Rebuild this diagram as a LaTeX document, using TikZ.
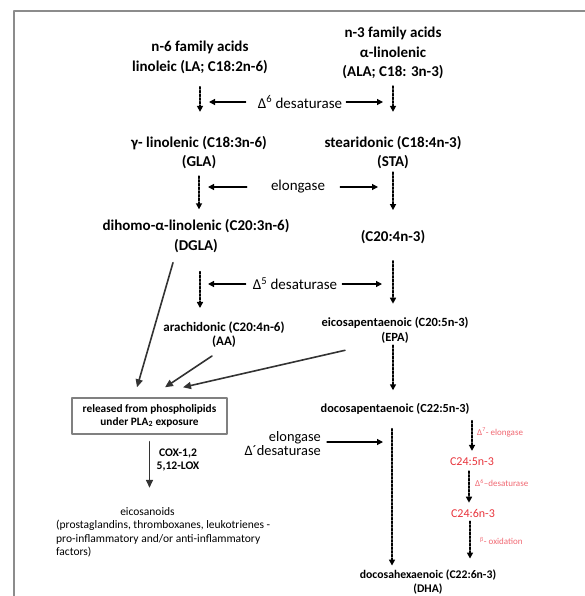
\documentclass[tikz,border=0pt]{standalone}
\usepackage{fontspec}
\setmainfont{Carlito}
\usetikzlibrary{arrows,arrows.meta}
\definecolor{chainred}{RGB}{232,52,60}
\definecolor{stepred}{RGB}{240,104,114}

\begin{document}
\begin{tikzpicture}[line cap=round,line join=round,>={Triangle[length=6pt,width=6pt]},x=1pt,y=-1pt,
	acid/.style={font=\bfseries\fontsize{15}{19.5}\selectfont,align=center,inner sep=0pt},
	minor/.style={font=\bfseries\fontsize{13}{14}\selectfont,align=center,inner sep=0pt},
	enzyme/.style={font=\fontsize{15}{14}\selectfont,inner sep=0pt},
	chain/.style={font=\fontsize{12}{15}\selectfont,text=chainred,inner sep=0pt},
	stepnote/.style={font=\fontsize{9}{10}\selectfont,text=stepred,inner sep=0pt,anchor=west},
	pathway/.style={->,line width=1.6pt,dash pattern=on 2.2pt off 1.5pt},
	enzarrow/.style={->,line width=1.2pt},
	feed/.style={-{Triangle[length=8pt,width=7pt]},line width=1.6pt,black!80}]
		\useasboundingbox (0,0) rectangle (585,596);
		\draw [line width=1.6pt,black!45] (585,11) -- (14,11) -- (14,596);
		% fatty acids
		\node[acid] (n6) at (200,57.5) {n-6 family acids\\linoleic (LA; C18:2n-6)};
		\node[acid] (n3) at (393,53) {n-3 family acids\\α-linolenic\\(ALA; C18: 3n-3)};
		\node[acid] (gla) at (199,152.5) {γ- linolenic (C18:3n-6)\\(GLA)};
		\node[acid] (sta) at (393,152.5) {stearidonic (C18:4n-3)\\(STA)};
		\node[acid] (dgla) at (196,236) {dihomo-α-linolenic (C20:3n-6)\\(DGLA)};
		\node[acid] (c204) at (393,237) {(C20:4n-3)};
		\node[minor] (aa) at (224,335) {arachidonic (C20:4n-6)\\(AA)};
		\node[minor,font=\bfseries\fontsize{12.5}{15}\selectfont] (epa) at (395,330) {eicosapentaenoic (C20:5n-3)\\(EPA)};
		\node[minor,font=\bfseries\fontsize{12.3}{14}\selectfont] (dpa) at (395,409) {docosapentaenoic (C22:5n-3)};
		\node[minor,font=\bfseries\fontsize{11.7}{14}\selectfont] (dha) at (428,582) {docosahexaenoic (C22:6n-3)\\(DHA)};
		\node[chain] (c245) at (472,462) {C24:5n-3};
		\node[chain] (c246) at (473,513) {C24:6n-3};
		% enzymes
		\node[enzyme] (d6) at (300,102) {Δ\textsuperscript{6} desaturase};
		\node[enzyme] (elong) at (298,187) {elongase};
		\node[enzyme] (d5) at (295,284) {Δ\textsuperscript{5} desaturase};
		\node[enzyme,font=\fontsize{14.4}{14}\selectfont,align=right,anchor=east] (elong2) at (321,444) {elongase\\Δ´desaturase};
		\node[stepnote] (d7) at (477,432) {Δ\textsuperscript{7}- elongase};
		\node[stepnote] (d6b) at (475,483) {Δ\textsuperscript{6}–desaturase};
		\node[stepnote] (beta) at (480,541) {\textsuperscript{β}- oxidation};
		% release and eicosanoids
		\node[minor,font=\bfseries\fontsize{11.3}{12.5}\selectfont,draw=black!50,line width=1.4pt,minimum width=155pt,minimum height=36pt] (box) at (149.5,416) {released from phospholipids\\under PLA\textsubscript{2} exposure};
		\node[minor,font=\bfseries\fontsize{11.6}{13}\selectfont] (cox) at (178,460) {COX-1,2\\5,12-LOX};
		\node[font=\fontsize{11.5}{13.5}\selectfont,inner sep=0pt] (eicotitle) at (147.5,512) {eicosanoids};
		\node[font=\fontsize{11.5}{13.5}\selectfont,inner sep=0pt,align=left,anchor=north west] (eicolist) at (56,520) {(prostaglandins, thromboxanes, leukotrienes -\\pro-inflammatory and/or anti-inflammatory\\factors)};
		% pathway steps
		\draw [pathway,shorten <=13pt,shorten >=24pt] (n6.south) -- (n6.south |- gla.north);
		\draw [pathway,shorten <=7pt,shorten >=24pt] (n3.south) -- (n3.south |- sta.north);
		\draw [pathway,shorten <=7pt,shorten >=10pt] (gla.south) -- (gla.south |- dgla.north);
		\draw [pathway,shorten <=3pt,shorten >=20pt] (sta.south) -- (sta.south |- c204.north);
		\draw [pathway,shorten <=19pt,shorten >=14pt] ([xshift=4pt]dgla.south) -- ([xshift=4pt]dgla.south |- aa.north);
		\draw [pathway,shorten <=17pt,shorten >=13pt] (c204.south) -- (c204.south |- epa.north);
		\draw [pathway,shorten <=2pt,shorten >=13pt] ([xshift=-2pt]epa.south) -- ([xshift=-2pt]epa.south |- dpa.north);
		\draw [pathway,shorten <=14pt,shorten >=4pt] ([xshift=-3pt]dpa.south) -- ([xshift=-3pt]dpa.south |- dha.north);
		\draw [pathway,shorten <=6pt,shorten >=7pt] (dpa.south -| c245.north) -- (c245.north);
		\draw [pathway,shorten <=5pt,shorten >=6pt] ([xshift=-3pt]c245.south) -- ([xshift=-3pt]c245.south |- c246.north);
		\draw [pathway,shorten <=4pt,shorten >=11pt] ([xshift=-3pt]c246.south) -- ([xshift=-3pt]c246.south |- dha.north);
		% enzyme arrows
		\draw [enzarrow,shorten <=12pt,shorten >=9pt] (d6.west) -- (d6.west -| n6.south);
		\draw [enzarrow,shorten <=4pt,shorten >=10pt] (d6.east) -- (d6.east -| n3.south);
		\draw [enzarrow,shorten <=24pt,shorten >=9pt] (elong.west) -- (elong.west -| gla.south);
		\draw [enzarrow,shorten <=15pt,shorten >=15pt] (elong.east) -- (elong.east -| sta.south);
		\draw [enzarrow,shorten <=7pt,shorten >=12pt] (d5.west) -- (d5.west -| dgla.south);
		\draw [enzarrow,shorten <=5pt,shorten >=11pt] (d5.east) -- (d5.east -| c204.south);
		\draw [enzarrow,shorten <=6pt,shorten >=12pt] ([yshift=2pt]elong2.east) -- ([yshift=2pt]elong2.east -| dpa.south);
		% release
		\draw [feed] ([shift={(-23,10)}]dgla.south) -- ([shift={(-12.5,-10)}]box.north);
		\draw [feed] ([shift={(-12,8)}]aa.south) -- ([shift={(15.5,-10)}]box.north);
		\draw [feed] ([shift={(-50,7)}]epa.south) -- ([shift={(33.5,-10)}]box.north);
		\draw [feed,shorten <=7pt,shorten >=20pt] (box.south) -- (box.south |- eicotitle.north);
\end{tikzpicture}
\end{document}
